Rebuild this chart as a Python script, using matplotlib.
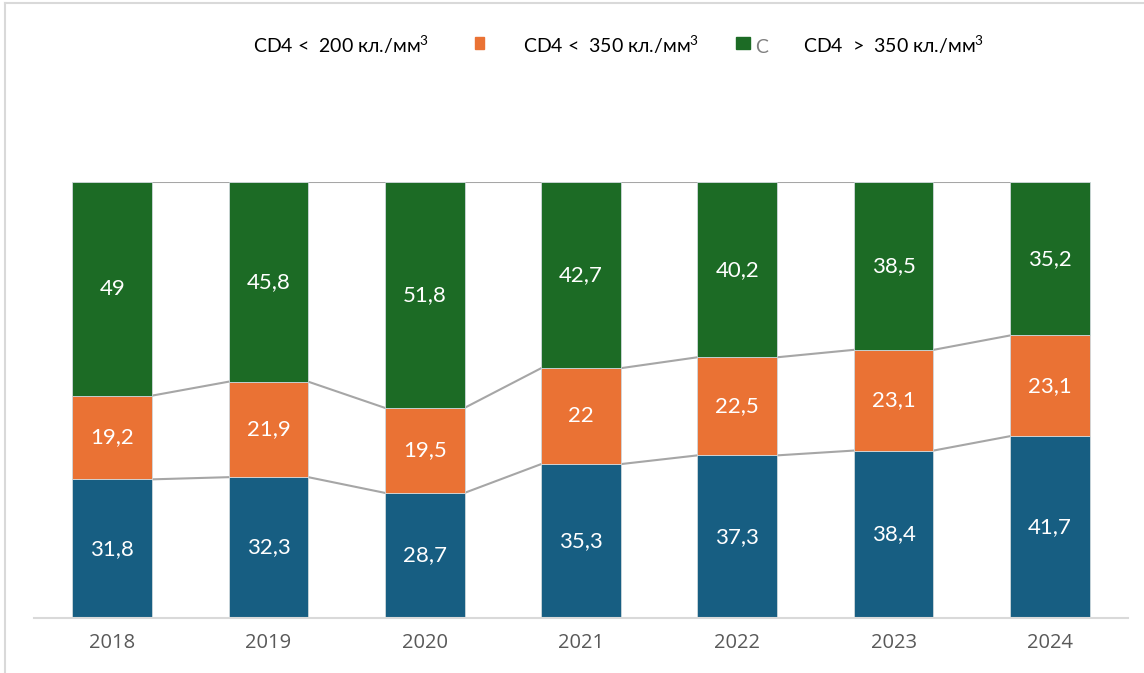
import numpy as np
import matplotlib.pyplot as plt
from matplotlib.patches import Rectangle
from matplotlib.lines import Line2D

years = ['2018', '2019', '2020', '2021', '2022', '2023', '2024']
cd4_lt200 = [31.8, 32.3, 28.7, 35.3, 37.3, 38.4, 41.7]
cd4_lt350 = [19.2, 21.9, 19.5, 22, 22.5, 23.1, 23.1]
cd4_gt350 = [49, 45.8, 51.8, 42.7, 40.2, 38.5, 35.2]

legend_labels = ['CD4 <  200 кл./мм$^3$', 'CD4 <  350 кл./мм$^3$', 'CD4  >  350 кл./мм$^3$']
colors = ['#175e82', '#ea7234', '#1c6b25']

W, H = 1144, 673
fig = plt.figure(figsize=(W / 100, H / 100), dpi=100)
ax = fig.add_axes([34 / W, 55 / H, 1094 / W, 436 / H])

x = np.arange(len(years))
width = 0.51
series = [np.array(cd4_lt200), np.array(cd4_lt350), np.array(cd4_gt350)]
bottom = np.zeros(len(years))
tops = []
for vals, c in zip(series, colors):
    ax.bar(x, vals, width, bottom=bottom, color=c, edgecolor='#cfd8dc', linewidth=0.6, zorder=2)
    for xi, b, v in zip(x, bottom, vals):
        ax.text(xi, b + v / 2, f'{v:g}'.replace('.', ','), ha='center', va='center',
                color='white', fontsize=16, family=['Lato', 'DejaVu Sans'], zorder=3)
    bottom = bottom + vals
    tops.append(bottom.copy())

# series lines between bars
for lvl in tops:
    for i in range(len(x) - 1):
        ax.plot([x[i] + width / 2, x[i + 1] - width / 2], [lvl[i], lvl[i + 1]],
                color='#a6a6a6', lw=1.5, zorder=1)

ax.set_xlim(-0.5, len(years) - 0.5)
ax.set_ylim(0, 100)
ax.set_xticks(x)
ax.set_xticklabels(years, fontsize=14.5, color='#595959', family=['Open Sans', 'DejaVu Sans'])
ax.tick_params(axis='x', length=0, pad=11)
ax.set_yticks([])
for s in ['left', 'right', 'top']:
    ax.spines[s].set_visible(False)
ax.spines['bottom'].set_color('#d9d9d9')
ax.spines['bottom'].set_linewidth(1.5)

# legend drawn by hand (first marker is not shown in the original)
def fx(px):
    return px / W

def fy(py):
    return (H - py) / H

lfont = ['Lato', 'DejaVu Sans']
plt.rcParams['mathtext.fontset'] = 'custom'
plt.rcParams['mathtext.rm'] = 'Lato'
text_x = [253, 523, 803]
for tx, lab in zip(text_x, legend_labels):
    fig.text(fx(tx), fy(53), lab, fontsize=14, color='#000000', family=lfont, va='baseline')
fig.patches.append(Rectangle((fx(475), fy(49)), 9 / W, 12 / H, transform=fig.transFigure,
                             color=colors[1], figure=fig))
fig.patches.append(Rectangle((fx(736), fy(49)), 14 / W, 12 / H, transform=fig.transFigure,
                             color=colors[2], figure=fig))
fig.text(fx(755), fy(53), 'C', fontsize=14, color='#7f7f7f', family=lfont, va='baseline')

# chart area border
fig.add_artist(Line2D([fx(5), fx(5)], [fy(3), 0], transform=fig.transFigure, color='#d9d9d9', lw=1.5))
fig.add_artist(Line2D([fx(5), 1], [fy(3), fy(3)], transform=fig.transFigure, color='#d9d9d9', lw=1.5))

fig.savefig('out.png', dpi=100)
